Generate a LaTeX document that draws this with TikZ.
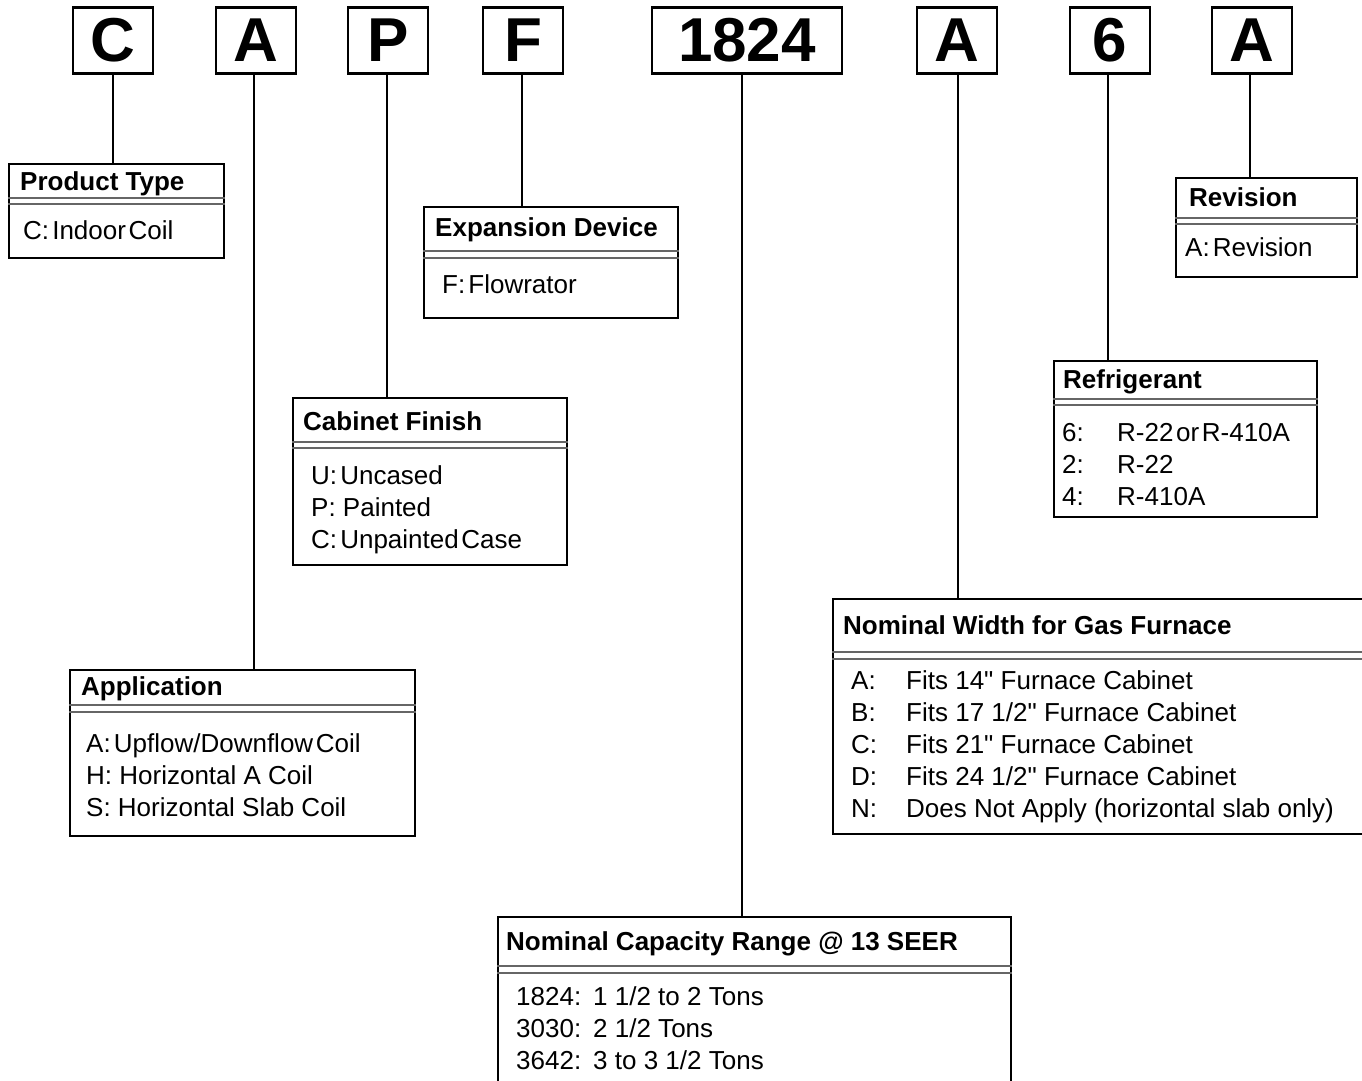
\documentclass[tikz,border=0pt]{standalone}
\usepackage{fontspec}
\setmainfont{Liberation Sans}
\newfontfamily\qfont{Liberation Sans}[Ligatures=TeXOff]
\newcommand{\inch}{{\qfont"}}
\begin{document}
\begin{tikzpicture}[x=1pt,y=-1pt,
  letter/.style={draw,line width=2.2pt,minimum height=66pt,inner sep=0pt,
    font=\fontsize{62}{62}\selectfont\bfseries},
  infobox/.style={draw,line width=2.2pt,anchor=north west,inner sep=0pt},
  hdr/.style={anchor=base west,inner sep=0pt,font=\fontsize{26}{26}\selectfont\bfseries},
  item/.style={anchor=base west,inner sep=0pt,font=\fontsize{26}{26}\selectfont},
  dbl/.style={line width=1.3pt,draw=black!60},
  conn/.style={line width=2pt}]
\useasboundingbox (0,0) rectangle (1362,1080);

% ---- code letters ----
\node[letter,minimum width=80pt]  (lC)  at (113,40.5) {C};
\node[letter,minimum width=80pt]  (lA)  at (256,40.5) {A};
\node[letter,minimum width=80pt]  (lP)  at (388,40.5) {P};
\node[letter,minimum width=80pt]  (lF)  at (523,40.5) {F};
\node[letter,minimum width=190pt] (lN)  at (747,40.5) {1824};
\node[letter,minimum width=80pt]  (lW)  at (957,40.5) {A};
\node[letter,minimum width=80pt]  (l6)  at (1110,40.5) {6};
\node[letter,minimum width=80pt]  (lR)  at (1252,40.5) {A};

% ---- Product Type ----
\node[infobox,minimum width=215pt,minimum height=94pt] (ptype) at (8,163) {};
\node[hdr]  (ptypeh) at (20,190) {Product Type};
\draw[dbl] (ptype.west |- 0,198) -- (ptype.east |- 0,198);
\draw[dbl] (ptype.west |- 0,204) -- (ptype.east |- 0,204);
\node[item] (ptype1) at (23,239) {C:\hspace{0.12em}Indoor\hspace{0.1em}Coil};

% ---- Application ----
\node[infobox,minimum width=345pt,minimum height=166pt] (app) at (69,669) {};
\node[hdr]  (apph) at (81,695) {Application};
\draw[dbl] (app.west |- 0,705) -- (app.east |- 0,705);
\draw[dbl] (app.west |- 0,712) -- (app.east |- 0,712);
\node[item] (app1) at (86,752) {A:\hspace{0.12em}Upflow/Downflow\hspace{0.1em}Coil};
\node[item] (app2) at (86,784) {H: Horizontal A Coil};
\node[item] (app3) at (86,816) {S: Horizontal Slab Coil};

% ---- Cabinet Finish ----
\node[infobox,minimum width=274pt,minimum height=167pt] (cab) at (292,397) {};
\node[hdr]  (cabh) at (303,430) {Cabinet Finish};
\draw[dbl] (cab.west |- 0,442) -- (cab.east |- 0,442);
\draw[dbl] (cab.west |- 0,448) -- (cab.east |- 0,448);
\node[item] (cab1) at (311,484) {U:\hspace{0.12em}Uncased};
\node[item] (cab2) at (311,516) {P: Painted};
\node[item] (cab3) at (311,548) {C:\hspace{0.12em}Unpainted\hspace{0.1em}Case};

% ---- Expansion Device ----
\node[infobox,minimum width=254pt,minimum height=111pt] (exp) at (423,206) {};
\node[hdr]  (exph) at (435,236) {Expansion Device};
\draw[dbl] (exp.west |- 0,251) -- (exp.east |- 0,251);
\draw[dbl] (exp.west |- 0,258) -- (exp.east |- 0,258);
\node[item] (exp1) at (442,293) {F:\hspace{0.12em}Flowrator};

% ---- Nominal Capacity ----
\node[infobox,minimum width=513pt,minimum height=200pt] (cap) at (497,916) {};
\node[hdr]  (caph) at (506,950) {Nominal Capacity Range @ 13 SEER};
\draw[dbl] (cap.west |- 0,966) -- (cap.east |- 0,966);
\draw[dbl] (cap.west |- 0,973) -- (cap.east |- 0,973);
\node[item] (capk1) at (516,1005) {1824:};
\node[item] (capv1) at (593,1005) {1 1/2 to 2 Tons};
\node[item] (capk2) at (516,1037) {3030:};
\node[item] (capv2) at (593,1037) {2 1/2 Tons};
\node[item] (capk3) at (516,1069) {3642:};
\node[item] (capv3) at (593,1069) {3 to 3 1/2 Tons};

% ---- Nominal Width ----
\node[infobox,minimum width=540pt,minimum height=235pt] (wid) at (832,598) {};
\node[hdr]  (widh) at (843,634) {Nominal Width for Gas Furnace};
\draw[dbl] (wid.west |- 0,652) -- (1362,652);
\draw[dbl] (wid.west |- 0,659) -- (1362,659);
\node[item] (widk1) at (851,689) {A:};
\node[item] (widv1) at (906,689) {Fits 14\inch\ Furnace Cabinet};
\node[item] (widk2) at (851,721) {B:};
\node[item] (widv2) at (906,721) {Fits 17 1/2\inch\ Furnace Cabinet};
\node[item] (widk3) at (851,753) {C:};
\node[item] (widv3) at (906,753) {Fits 21\inch\ Furnace Cabinet};
\node[item] (widk4) at (851,785) {D:};
\node[item] (widv4) at (906,785) {Fits 24 1/2\inch\ Furnace Cabinet};
\node[item] (widk5) at (851,817) {N:};
\node[item] (widv5) at (906,817) {Does Not Apply (horizontal slab only)};

% ---- Refrigerant ----
\node[infobox,minimum width=263pt,minimum height=156pt] (ref) at (1053,360) {};
\node[hdr]  (refh) at (1063,388) {Refrigerant};
\draw[dbl] (ref.west |- 0,399) -- (ref.east |- 0,399);
\draw[dbl] (ref.west |- 0,405) -- (ref.east |- 0,405);
\node[item] (refk1) at (1062,441) {6:};
\node[item] (refv1) at (1117,441) {R-22\hspace{0.1em}or\hspace{0.1em}R-410A};
\node[item] (refk2) at (1062,473) {2:};
\node[item] (refv2) at (1117,473) {R-22};
\node[item] (refk3) at (1062,505) {4:};
\node[item] (refv3) at (1117,505) {R-410A};

% ---- Revision ----
\node[infobox,minimum width=181pt,minimum height=99pt] (rev) at (1175,177) {};
\node[hdr]  (revh) at (1189,206) {Revision};
\draw[dbl] (rev.west |- 0,218) -- (rev.east |- 0,218);
\draw[dbl] (rev.west |- 0,224) -- (rev.east |- 0,224);
\node[item] (rev1) at (1185,256) {A:\hspace{0.12em}Revision};

% ---- connectors ----
\draw[conn] (lC.south) -- (lC.south |- ptype.north);
\draw[conn] ([xshift=-2pt]lA.south) -- ([xshift=-2pt]lA.south |- app.north);
\draw[conn] ([xshift=-1pt]lP.south) -- ([xshift=-1pt]lP.south |- cab.north);
\draw[conn] ([xshift=-1pt]lF.south) -- ([xshift=-1pt]lF.south |- exp.north);
\draw[conn] ([xshift=-5pt]lN.south) -- ([xshift=-5pt]lN.south |- cap.north);
\draw[conn] ([xshift=1pt]lW.south) -- ([xshift=1pt]lW.south |- wid.north);
\draw[conn] ([xshift=-2pt]l6.south) -- ([xshift=-2pt]l6.south |- ref.north);
\draw[conn] ([xshift=-2pt]lR.south) -- ([xshift=-2pt]lR.south |- rev.north);
\end{tikzpicture}
\end{document}
